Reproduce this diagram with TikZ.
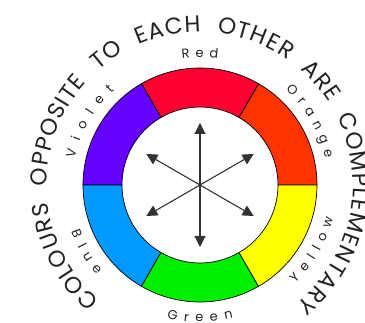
\documentclass[tikz,border=0pt]{standalone}
\usepackage{fontspec}
\setmainfont{Poppins}
\newfontfamily\titlefam{Poppins}[WordSpace=2.3]
\usetikzlibrary{arrows.meta, decorations.text}
\definecolor{wred}{HTML}{FF0033}
\definecolor{worange}{HTML}{FF3300}
\definecolor{wyellow}{HTML}{FFFF00}
\definecolor{wgreen}{HTML}{00EE00}
\definecolor{wblue}{HTML}{0099FF}
\definecolor{wviolet}{HTML}{6600FF}
\definecolor{wink}{HTML}{222222}
\newcommand{\labelfont}{\fontsize{13pt}{15pt}\selectfont\color{wink}}
\newcommand{\titlefont}{\titlefam\fontsize{23pt}{25pt}\selectfont\color{wink}}

\begin{document}
\begin{tikzpicture}[x=1pt, y=1pt,
  segment/.style={draw=black, line width=0.7pt},
  dblarrow/.style={{Triangle[length=11pt, width=11pt]}-{Triangle[length=11pt, width=11pt]},
    draw=black!80, line width=1.1pt},
  toplabel/.style={decorate, decoration={text along path, text align=fit to path,
    text={|\labelfont|#1}}},
  title/.style={decorate, decoration={text along path,
    text align=fit to path, text={|\titlefont|#1}}}
  ]
  \useasboundingbox (0,0) rectangle (365,323);
  \coordinate (c) at (200,138);

  %% Colour ring, six segments of 60 degrees
  \foreach \a/\col in {0/worange, 60/wred, 120/wviolet, 180/wblue, 240/wgreen, 300/wyellow}{
    \filldraw[segment, fill=\col] ([shift={(\a:117)}]c)
      arc[start angle=\a, end angle=\a+60, radius=117]
      -- ([shift={(\a+60:78)}]c)
      arc[start angle=\a+60, end angle=\a, radius=78] -- cycle;
  }

  %% Colour names (top ones run clockwise, bottom ones anticlockwise)
  \foreach \s/\e/\name in {168/132/Violet, 98/82/Red, 48/12/Orange}{
    \path[toplabel/.expanded=\name] ([shift={(\s:128)}]c)
      arc[start angle=\s, end angle=\e, radius=128];
  }
  \foreach \s/\e/\name in {200/221/Blue, 256/284/Green, -46/-14/Yellow}{
    \path[toplabel/.expanded=\name] ([shift={(\s:137)}]c)
      arc[start angle=\s, end angle=\e, radius=137];
  }

  %% Heading round the wheel
  \path[title={COLOURS OPPOSITE TO EACH OTHER ARE COMPLEMENTARY}]
    ([shift={(229:153)}]c) arc[start angle=229, end angle=-51, radius=153];

  %% Complementary arrows
  \foreach \a in {30,90,150,210,270,330}
    \coordinate (tip\a) at ([shift={(\a:62)}]c);
  \foreach \a/\b in {90/270, 30/210, 150/330}
    \draw[dblarrow] (tip\a) -- (tip\b);

\end{tikzpicture}
\end{document}
